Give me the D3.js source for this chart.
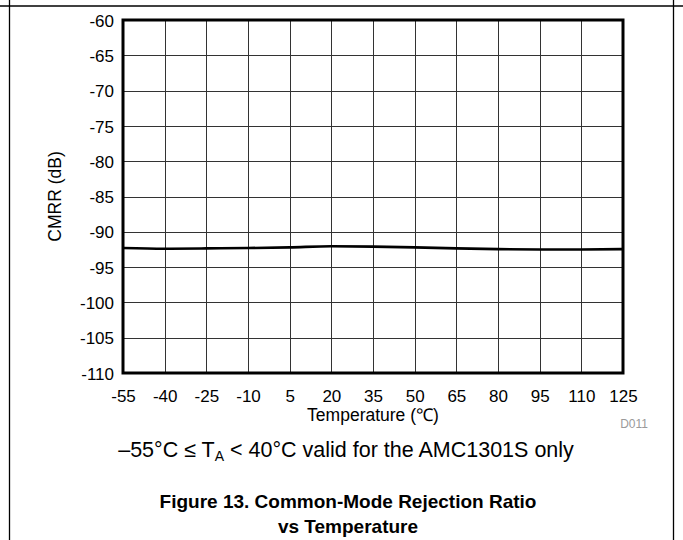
<!DOCTYPE html>
<html>
<head>
<meta charset="utf-8">
<script src="https://cdn.jsdelivr.net/npm/d3@7/dist/d3.min.js"></script>
<style>
  html, body { margin: 0; padding: 0; background: #fff; }
  svg { display: block; font-family: Arial, "Liberation Sans", Helvetica, sans-serif; }
</style>
</head>
<body>
<svg id="chart" width="683" height="540"></svg>
<script>
const temperatures = [-55, -40, -25, -10, 5, 20, 35, 50, 65, 80, 95, 110, 125];
const cmrrValues = [-92.3, -92.4, -92.35, -92.3, -92.2, -92.05, -92.1, -92.2, -92.35, -92.45, -92.5, -92.5, -92.45];
const xTicks = [-55, -40, -25, -10, 5, 20, 35, 50, 65, 80, 95, 110, 125];
const yTicks = [-60, -65, -70, -75, -80, -85, -90, -95, -100, -105, -110];

const svg = d3.select("#chart");
const W = 683, H = 540;
const m = { left: 123, right: 623, top: 20, bottom: 373 };
const FONT = "Arial, 'Liberation Sans', sans-serif";

// page frame
svg.append("line").attr("x1", 0).attr("x2", W).attr("y1", 6).attr("y2", 6).attr("stroke", "#000").attr("stroke-width", 1.3);
svg.append("line").attr("x1", 9.5).attr("x2", 9.5).attr("y1", 0).attr("y2", H).attr("stroke", "#000").attr("stroke-width", 1.3);
svg.append("line").attr("x1", 673.5).attr("x2", 673.5).attr("y1", 0).attr("y2", H).attr("stroke", "#000").attr("stroke-width", 1.3);

const x = d3.scaleLinear().domain([-55, 125]).range([m.left, m.right]);
const y = d3.scaleLinear().domain([-110, -60]).range([m.bottom, m.top]);

// grid
const g = svg.append("g");
g.selectAll(".vg").data(xTicks.slice(1, -1)).enter().append("line")
  .attr("x1", d => Math.round(x(d)) + 0.5).attr("x2", d => Math.round(x(d)) + 0.5)
  .attr("y1", m.top).attr("y2", m.bottom)
  .attr("stroke", "#333").attr("stroke-width", 1);
g.selectAll(".hg").data(yTicks.slice(1, -1)).enter().append("line")
  .attr("y1", d => Math.round(y(d)) + 0.5).attr("y2", d => Math.round(y(d)) + 0.5)
  .attr("x1", m.left).attr("x2", m.right)
  .attr("stroke", "#333").attr("stroke-width", 1);

// data line
const line = d3.line().x((d, i) => x(temperatures[i])).y(d => y(d)).curve(d3.curveMonotoneX);
svg.append("path").datum(cmrrValues).attr("d", line)
  .attr("fill", "none").attr("stroke", "#000").attr("stroke-width", 2.6);

// frame of plot
svg.append("rect").attr("x", m.left).attr("y", m.top)
  .attr("width", m.right - m.left).attr("height", m.bottom - m.top)
  .attr("fill", "none").attr("stroke", "#000").attr("stroke-width", 3);

// axes (labels only)
const fmt = d => String(d);
const xAxis = d3.axisBottom(x).tickValues(xTicks).tickSize(0).tickPadding(0).tickFormat(fmt);
const xa = svg.append("g").attr("transform", `translate(0,${m.bottom})`).call(xAxis);
xa.select(".domain").remove();
xa.selectAll("text").attr("font-size", 17).attr("fill", "#000").attr("font-family", FONT)
  .attr("dy", null).attr("y", 29);

const yAxis = d3.axisLeft(y).tickValues(yTicks).tickSize(0).tickPadding(9).tickFormat(fmt);
const ya = svg.append("g").attr("transform", `translate(${m.left},0)`).call(yAxis);
ya.select(".domain").remove();
ya.selectAll("text").attr("font-size", 17).attr("fill", "#000").attr("font-family", FONT)
  .attr("dy", "0.36em");

// axis titles
svg.append("text").attr("x", (m.left + m.right) / 2).attr("y", 421)
  .attr("text-anchor", "middle").attr("font-size", 17.5).text("Temperature (\u2103)");
svg.append("text").attr("transform", `translate(61,${(m.top + m.bottom) / 2}) rotate(-90)`)
  .attr("text-anchor", "middle").attr("font-size", 17.5).text("CMRR (dB)");

svg.append("text").attr("x", 648).attr("y", 428).attr("text-anchor", "end")
  .attr("font-size", 12).attr("fill", "#9a9a9a").text("D011");

// notes
const note = svg.append("text").attr("x", 346).attr("y", 457).attr("text-anchor", "middle").attr("font-size", 21.5);
note.append("tspan").text("\u201355\u00B0C \u2264 T");
note.append("tspan").attr("font-size", 14).attr("dy", 4).text("A");
note.append("tspan").attr("dy", -4).text(" < 40\u00B0C valid for the AMC1301S only");

svg.append("text").attr("x", 348).attr("y", 508).attr("text-anchor", "middle")
  .attr("font-size", 19).attr("font-weight", "bold").text("Figure 13. Common-Mode Rejection Ratio");
svg.append("text").attr("x", 348).attr("y", 533).attr("text-anchor", "middle")
  .attr("font-size", 19).attr("font-weight", "bold").text("vs Temperature");
</script>
</body>
</html>
